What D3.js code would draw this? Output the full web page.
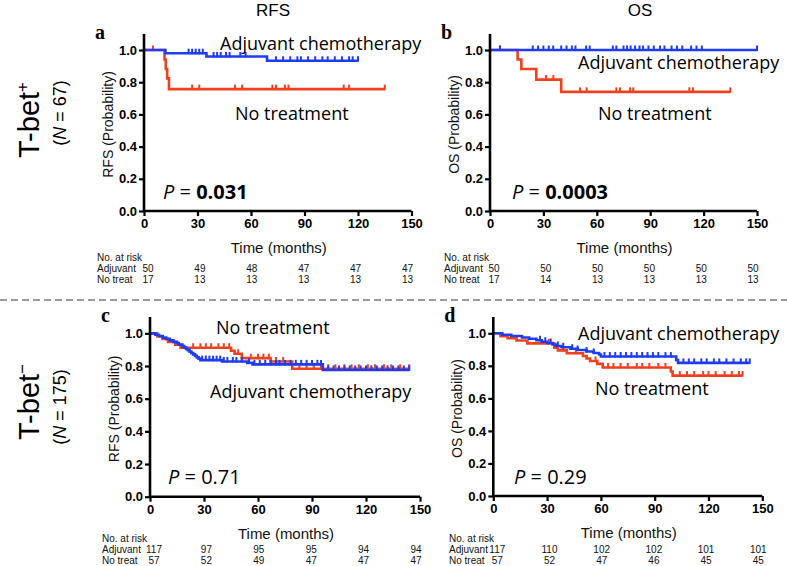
<!DOCTYPE html>
<html><head><meta charset="utf-8">
<script src="https://cdn.jsdelivr.net/npm/d3@7"></script>
<style>
body{margin:0;background:#fff;}
svg{display:block;}
</style></head>
<body><svg id="c" width="787" height="566"></svg>
<script>
// ---------- data ----------
const monthTicks = [0, 30, 60, 90, 120, 150];
const probTicks = [0, 0.2, 0.4, 0.6, 0.8, 1.0];
const groups = ["Adjuvant", "No treat"];

// Panel a (RFS, T-bet+)
const aAdjSteps = [[0,1],[12,0.98],[35,0.96],[69,0.933]];
const aAdjEnd = 120;
const aAdjCens = [25,27,29,31,33,39,41,43,46,48,54,57,74,78,82,86,88,92,96,100,103,107,111,115,117,120];
const aNoSteps = [[0,1],[11.5,0.941],[12.2,0.882],[13,0.824],[14,0.757]];
const aNoEnd = 135;
const aNoCens = [5,27,31,51,55,72,74,79,81,112,115,135];
const aRiskAdj = [50,49,48,47,47,47];
const aRiskNo = [17,13,13,13,13,13];

// Panel b (OS, T-bet+)
const bAdjSteps = [[0,1]];
const bAdjEnd = 150;
const bAdjCens = [5.6,24,27,30,33,35.5,40,43,46,48,54,56,69,71,75,77,79,81.5,84,86,89,92,95.5,98,102,105,108,113,116,119,150];
const bNoSteps = [[0,1],[15.5,0.941],[17.6,0.882],[26,0.816],[40,0.74]];
const bNoEnd = 135;
const bNoCens = [5.6,31.5,35.6,50.6,54.3,71,73,78.7,80.5,112,114,135];
const bRiskAdj = [50,50,50,50,50,50];
const bRiskNo = [17,14,13,13,13,13];

// Panel c (RFS, T-bet-)
const cAdjSteps = [[0,1],[3,0.991],[5,0.983],[7,0.974],[9,0.966],[11,0.957],[13,0.948],[15,0.94],[16,0.931],[18,0.922],[19,0.914],[20,0.905],[21,0.897],[22,0.888],[23,0.879],[24,0.871],[25,0.862],[26,0.853],[27,0.845],[28,0.836],[40,0.828],[54,0.819],[57,0.81],[96,0.776]];
const cAdjEnd = 144;
const cAdjCens = [29,31,33,35,37,39,41,43,46,48,51,55,58,61,64,67,70,72,75,78,81,84,87,90,93,95,99,102,105,108,111,114,117,120,123,126,129,132,135,138,141,144];
const cNoSteps = [[0,1],[4,0.982],[7,0.965],[10,0.947],[14,0.93],[17,0.912],[45,0.893],[47,0.875],[51,0.848],[67,0.828],[79,0.783]];
const cNoEnd = 144;
const cNoCens = [24,28,31,34,38,41,44,49,56,60,63,66,70,74,83,87,91,95,99,103,108,112,116,121,125,130,134,139,144];
const cRiskAdj = [117,97,95,95,94,94];
const cRiskNo = [57,52,49,47,47,47];

// Panel d (OS, T-bet-)
const dAdjSteps = [[0,1],[5,0.991],[10,0.983],[16,0.974],[20,0.966],[24,0.957],[27,0.948],[30,0.94],[33,0.931],[35,0.922],[38,0.914],[43,0.905],[47,0.897],[52,0.888],[56,0.879],[59,0.87],[60,0.857],[102,0.836],[103,0.818]];
const dAdjEnd = 143;
const dAdjCens = [26,29,32,36,39,44,47,52,56,62,65,68,71,74,77,80,83,86,89,92,96,99,106,109,112,116,119,123,126,130,134,138,141,143];
const dNoSteps = [[0,1],[4,0.982],[8,0.97],[13,0.956],[19,0.938],[34,0.912],[36,0.895],[41,0.877],[50,0.86],[52,0.845],[54,0.83],[58,0.812],[61,0.79],[99,0.765],[100,0.74]];
const dNoEnd = 139;
const dNoCens = [31,39,46,57,64,67,71,75,80,83,87,92,96,104,108,112,117,120,124,129,133,137,139];
const dRiskAdj = [117,110,102,102,101,101];
const dRiskNo = [57,52,47,46,45,45];

// ---------- drawing ----------
const BLUE = "#1e3cf6", RED = "#f0401e";
const svg = d3.select("#c");
const SANS = "Liberation Sans, Arial, sans-serif";
const LABEL = "Open Sans, sans-serif";

function valueAt(steps, t){
  let v = steps[0][1];
  for (const s of steps){ if (s[0] <= t) v = s[1]; }
  return v;
}

function panel(cfg){
  const x = d3.scaleLinear().domain([0,150]).range([cfg.x0, cfg.x1]);
  const xr = d3.scaleLinear().domain([0,150]).range([cfg.x0+4, cfg.x1-4]);
  const y = d3.scaleLinear().domain([0,1.1]).range([cfg.y0, cfg.y1]);
  const g = svg.append("g");

  // curves
  const line = d3.line().x(d=>x(d[0])).y(d=>y(d[1])).curve(d3.curveStepAfter);
  const series = [
    {steps: cfg.noSteps, end: cfg.noEnd, cens: cfg.noCens, col: RED},
    {steps: cfg.adjSteps, end: cfg.adjEnd, cens: cfg.adjCens, col: BLUE}
  ];
  series.forEach(s=>{
    const pts = s.steps.concat([[s.end, s.steps[s.steps.length-1][1]]]);
    g.append("path").attr("d", line(pts)).attr("fill","none")
      .attr("stroke", s.col).attr("stroke-width", 2.6);
    g.selectAll(null).data(s.cens).enter().append("line")
      .attr("x1", d=>x(d)).attr("x2", d=>x(d))
      .attr("y1", d=>y(valueAt(s.steps,d))-4.5).attr("y2", d=>y(valueAt(s.steps,d))+1)
      .attr("stroke", s.col).attr("stroke-width", 2);
  });

  // axes
  const yAxis = d3.axisLeft(y).tickValues(probTicks).tickSize(5).tickPadding(2)
    .tickFormat(d3.format(".1f"));
  const ya = g.append("g").attr("transform",`translate(${cfg.x0},0)`).call(yAxis);
  const xAxis = d3.axisBottom(x).tickValues(monthTicks).tickSize(5).tickPadding(3);
  const xa = g.append("g").attr("transform",`translate(0,${cfg.y0})`).call(xAxis);
  [ya, xa].forEach(a=>{
    a.select(".domain").attr("stroke","#000").attr("stroke-width",2.6);
    a.selectAll(".tick line").attr("stroke","#000").attr("stroke-width",2.2);
    a.selectAll(".tick text").attr("fill","#000").attr("font-family",SANS)
      .attr("font-size",13).attr("font-weight","bold");
  });
  ya.select(".domain").attr("d", `M0,${cfg.y1}V${cfg.y0}`);
  xa.select(".domain").attr("d", `M${cfg.x0},0H${cfg.x1}`);

  // axis titles
  g.append("text").attr("x", (cfg.x0+cfg.x1)/2 + 1).attr("y", cfg.y0+42)
    .attr("text-anchor","middle").attr("font-family",SANS).attr("font-size",15)
    .attr("fill","#111").text("Time (months)");
  g.append("text").attr("transform",`translate(${cfg.x0-36},${(cfg.y0+cfg.y1)/2+2}) rotate(-90)`)
    .attr("text-anchor","middle").attr("dy","0.35em").attr("font-family",SANS).attr("font-size",14)
    .attr("fill","#111").text(cfg.yLabel);

  // panel letter
  g.append("text").attr("x", cfg.x0-49).attr("y", cfg.y1+5)
    .attr("font-family","Liberation Serif, Times New Roman, serif").attr("font-weight","bold")
    .attr("font-size",20).text(cfg.letter);

  // annotations
  cfg.notes.forEach(n=>{
    g.append("text").attr("x", n[1]).attr("y", n[2]).attr("font-family",LABEL)
      .attr("font-size",18).attr("fill","#000").text(n[0]);
  });
  const pt = g.append("text").attr("x", cfg.p[1]).attr("y", cfg.p[2])
    .attr("font-family",LABEL).attr("font-size",20);
  pt.append("tspan").attr("font-style","italic").text("P");
  pt.append("tspan").text(" = ");
  pt.append("tspan").attr("font-weight", cfg.pBold ? "bold" : "normal").text(cfg.p[0]);

  // risk table
  const rt = g.append("g").attr("font-family",SANS).attr("font-size",10).attr("fill","#111");
  rt.append("text").attr("x", cfg.riskX).attr("y", cfg.riskY).text("No. at risk");
  [cfg.riskAdj, cfg.riskNo].forEach((row,i)=>{
    rt.append("text").attr("x", cfg.riskX).attr("y", cfg.riskY+11*(i+1)).text(groups[i]);
    rt.selectAll(null).data(row).enter().append("text")
      .attr("x",(d,j)=>xr(monthTicks[j])).attr("y", cfg.riskY+11*(i+1))
      .attr("text-anchor","middle").text(d=>d);
  });
}

panel({x0:144, x1:411.5, y0:211, y1:33.9, letter:"a", yLabel:"RFS (Probability)",
  adjSteps:aAdjSteps, adjEnd:aAdjEnd, adjCens:aAdjCens,
  noSteps:aNoSteps, noEnd:aNoEnd, noCens:aNoCens,
  notes:[["Adjuvant chemotherapy",220,49.5],["No treatment",235,120]],
  p:["0.031",163,199], pBold:true, riskX:97, riskY:261, riskAdj:aRiskAdj, riskNo:aRiskNo});
panel({x0:490, x1:757, y0:211, y1:33.9, letter:"b", yLabel:"OS (Probability)",
  adjSteps:bAdjSteps, adjEnd:bAdjEnd, adjCens:bAdjCens,
  noSteps:bNoSteps, noEnd:bNoEnd, noCens:bNoCens,
  notes:[["Adjuvant chemotherapy",578,68.5],["No treatment",598,120]],
  p:["0.0003",512,199], pBold:true, riskX:444, riskY:261, riskAdj:bRiskAdj, riskNo:bRiskNo});
panel({x0:150, x1:420, y0:496.7, y1:317, letter:"c", yLabel:"RFS (Probability)",
  adjSteps:cAdjSteps, adjEnd:cAdjEnd, adjCens:cAdjCens,
  noSteps:cNoSteps, noEnd:cNoEnd, noCens:cNoCens,
  notes:[["No treatment",216,333.5],["Adjuvant chemotherapy",210,397.5]],
  p:["0.71",168,483.5], pBold:false, riskX:102, riskY:542, riskAdj:cRiskAdj, riskNo:cRiskNo});
panel({x0:493.3, x1:762.3, y0:496, y1:317, letter:"d", yLabel:"OS (Probability)",
  adjSteps:dAdjSteps, adjEnd:dAdjEnd, adjCens:dAdjCens,
  noSteps:dNoSteps, noEnd:dNoEnd, noCens:dNoCens,
  notes:[["Adjuvant chemotherapy",578,340],["No treatment",595,395]],
  p:["0.29",514,483.5], pBold:false, riskX:449, riskY:542, riskAdj:dRiskAdj, riskNo:dRiskNo});

// column titles
svg.append("text").attr("x",273).attr("y",16).attr("text-anchor","middle")
  .attr("font-family",SANS).attr("font-size",17).text("RFS");
svg.append("text").attr("x",640).attr("y",16).attr("text-anchor","middle")
  .attr("font-family",SANS).attr("font-size",17).text("OS");

// separator
svg.append("line").attr("x1",0).attr("x2",787).attr("y1",300).attr("y2",300)
  .attr("stroke","#999").attr("stroke-width",2).attr("stroke-dasharray","7,4");

// row labels
function rowLabel(cy, sign, n, nCy){
  const t = svg.append("text").attr("transform",`translate(39,${cy}) rotate(-90)`)
    .attr("text-anchor","middle").attr("font-family",SANS).attr("font-size",29);
  t.append("tspan").text("T-bet");
  t.append("tspan").attr("dy","-11").attr("font-size",17).text(sign);
  const u = svg.append("text").attr("transform",`translate(66,${nCy}) rotate(-90)`)
    .attr("text-anchor","middle").attr("font-family",SANS).attr("font-size",18);
  u.append("tspan").text("(");
  u.append("tspan").attr("font-style","italic").text("N");
  u.append("tspan").text(" = " + n + ")");
}
rowLabel(120, "+", 67, 113);
rowLabel(402, "\u2212", 175, 407);
</script>
</body></html>
